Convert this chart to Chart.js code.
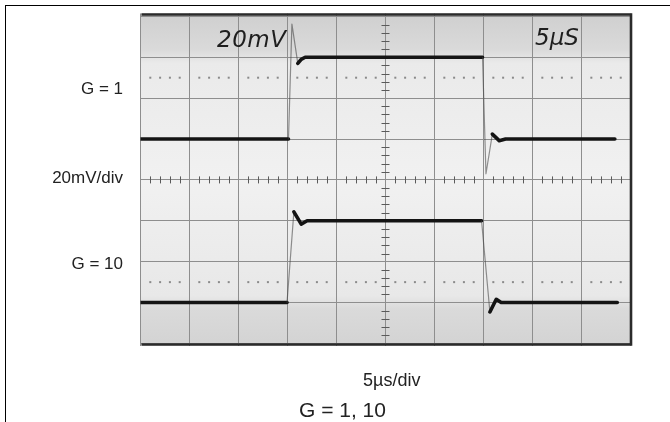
<!DOCTYPE html>
<html>
<head>
<meta charset="utf-8">
<script src="https://cdn.jsdelivr.net/npm/chart.js@4.4.1/dist/chart.umd.min.js"></script>
<style>
  body{margin:0;background:#fff;}
  #wrap{position:relative;width:670px;height:422px;overflow:hidden;font-family:"Liberation Sans",Arial,sans-serif;color:#222;}
  #frame{position:absolute;left:5px;top:5px;width:700px;height:430px;border-top:1.5px solid #000;border-left:1.5px solid #000;}
  canvas{position:absolute;left:0;top:0;}
  .lbl{position:absolute;white-space:nowrap;line-height:1;}
  .side{font-size:17px;text-align:right;width:120px;left:3px;}
  .scr{font-family:"DejaVu Sans",sans-serif;font-style:italic;font-size:23px;color:#1e1e1e;}
</style>
</head>
<body>
<div id="wrap">
  <div id="frame"></div>
  <canvas id="scope" width="670" height="422"></canvas>
  <div class="lbl side" style="top:80px;">G = 1</div>
  <div class="lbl side" style="top:169px;">20mV/div</div>
  <div class="lbl side" style="top:255px;">G = 10</div>
  <div class="lbl" style="left:363px;top:371px;font-size:18px;">5µs/div</div>
  <div class="lbl" style="left:299px;top:399px;font-size:21px;">G = 1, 10</div>
  <div class="lbl scr" style="left:217px;top:28px;letter-spacing:0.5px;">20mV</div>
  <div class="lbl scr" style="left:535px;top:26px;">5µS</div>
</div>
<script>
// traces, in divisions (10 across, 8 high)
const g1X = [0, 3.02, 3.09, 3.21, 3.28, 3.36, 6.98, 7.05, 7.18, 7.32, 7.45, 9.68];
const g1Y = [5.0, 5.0, 7.81, 6.85, 6.95, 7.0, 7.0, 4.15, 5.12, 4.96, 5.0, 5.0];
const g10X = [0, 2.99, 3.13, 3.28, 3.40, 6.96, 7.13, 7.26, 7.36, 9.73];
const g10Y = [1.0, 1.0, 3.22, 2.92, 3.0, 3.0, 0.77, 1.08, 1.0, 1.0];
const xDivs = [0, 1, 2, 3, 4, 5, 6, 7, 8, 9, 10];
const yDivs = [0, 1, 2, 3, 4, 5, 6, 7, 8];
const dotRows = [1.5, 6.5];

function pts(xs, ys){ return xs.map((x,i)=>({x:x, y:ys[i]})); }

// fast edges show up as faint thin lines on the photo
function slope(ctx){
  const a=ctx.p0.parsed, b=ctx.p1.parsed;
  return Math.abs((b.y-a.y)/((b.x-a.x)||1e-6));
}
const traceStyle = {
  borderColor:'#141414', borderWidth:3.6, pointRadius:0, tension:0,
  borderCapStyle:'round', borderJoinStyle:'round', fill:false,
  segment:{
    borderColor: c=>{const s=slope(c); return s>42?'rgba(90,90,90,0.3)':s>5?'rgba(60,60,60,0.55)':undefined;},
    borderWidth: c=>slope(c)>5?1.2:undefined
  }
};

const screenPlugin = {
  id:'screen',
  beforeDraw(chart){
    const {ctx, chartArea:a} = chart;
    const g = ctx.createLinearGradient(0,a.top,0,a.bottom);
    g.addColorStop(0,'#cfcfcf');
    g.addColorStop(0.11,'#dadada');
    g.addColorStop(0.15,'#eaeaea');
    g.addColorStop(0.5,'#f1f1f1');
    g.addColorStop(0.85,'#e8e8e8');
    g.addColorStop(0.89,'#dadada');
    g.addColorStop(1,'#d3d3d3');
    ctx.save();
    ctx.fillStyle=g;
    ctx.fillRect(a.left,a.top,a.right-a.left,a.bottom-a.top);
    ctx.restore();
  },
  beforeDatasetsDraw(chart){
    const {ctx, chartArea:a, scales:{x,y}} = chart;
    ctx.save();
    // minor ticks on the centre lines
    ctx.strokeStyle='#5a5a5a'; ctx.lineWidth=1;
    ctx.beginPath();
    const cx=x.getPixelForValue(5), cy=y.getPixelForValue(4);
    for(let v=0; v<=40; v++){
      if(v%5===0) continue;
      const py=y.getPixelForValue(v*0.2);
      ctx.moveTo(cx-4,Math.round(py)+0.5); ctx.lineTo(cx+4,Math.round(py)+0.5);
    }
    for(let v=0; v<=50; v++){
      if(v%5===0) continue;
      const px=x.getPixelForValue(v*0.2);
      ctx.moveTo(Math.round(px)+0.5,cy-3.5); ctx.lineTo(Math.round(px)+0.5,cy+3.5);
    }
    ctx.stroke();
    // dotted rows
    ctx.fillStyle='#8a8a8a';
    dotRows.forEach(r=>{
      const py=y.getPixelForValue(r);
      for(let v=1; v<50; v++){
        if(v%5===0) continue;
        ctx.fillRect(x.getPixelForValue(v*0.2)-1,py-1,2,2);
      }
    });
    // bezel edges
    ctx.strokeStyle='#2b2b2b'; ctx.lineWidth=2.6;
    ctx.beginPath();
    ctx.moveTo(a.left+1,a.top+1); ctx.lineTo(a.right-1,a.top+1);
    ctx.lineTo(a.right-1,a.bottom-1); ctx.lineTo(a.left+1,a.bottom-1);
    ctx.stroke();
    ctx.restore();
  }
};

const gridOpts = {color:'#8e8e8e', lineWidth:1, drawTicks:false};

new Chart(document.getElementById('scope'), {
  type:'line',
  data:{datasets:[
    Object.assign({label:'G = 1', data:pts(g1X,g1Y)}, traceStyle),
    Object.assign({label:'G = 10', data:pts(g10X,g10Y)}, traceStyle)
  ]},
  options:{
    responsive:false, animation:false, devicePixelRatio:1,
    layout:{padding:{left:140.5, top:13.5, right:38, bottom:76.5}},
    plugins:{legend:{display:false}, tooltip:{enabled:false}},
    scales:{
      x:{type:'linear', min:0, max:10.03, grid:gridOpts, border:{display:false},
         ticks:{display:false}, afterBuildTicks:s=>{s.ticks=xDivs.map(v=>({value:v}));}},
      y:{type:'linear', min:-0.05, max:8.07, grid:gridOpts, border:{display:false},
         ticks:{display:false}, afterBuildTicks:s=>{s.ticks=yDivs.map(v=>({value:v}));}}
    }
  },
  plugins:[screenPlugin]
});
</script>
</body>
</html>
